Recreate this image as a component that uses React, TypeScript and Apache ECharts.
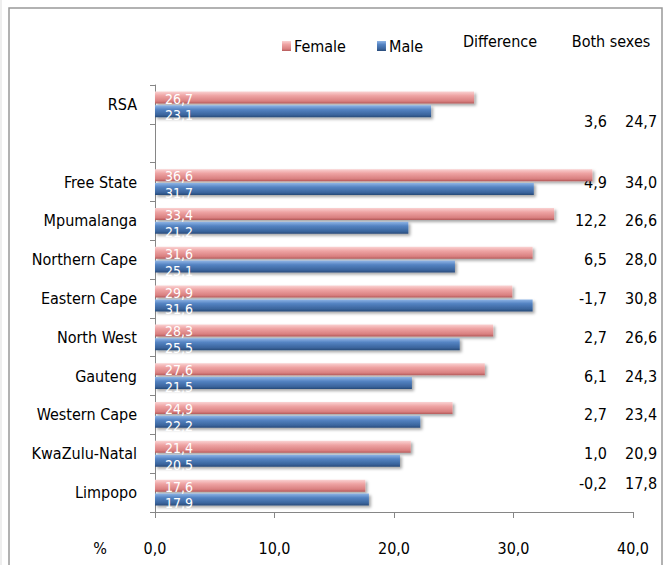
import React, { useEffect, useRef } from "react";
import * as echarts from "echarts";

const categories = [
  "RSA",
  "",
  "Free State",
  "Mpumalanga",
  "Northern Cape",
  "Eastern Cape",
  "North West",
  "Gauteng",
  "Western Cape",
  "KwaZulu-Natal",
  "Limpopo",
];
const female = [26.7, null, 36.6, 33.4, 31.6, 29.9, 28.3, 27.6, 24.9, 21.4, 17.6];
const male = [23.1, null, 31.7, 21.2, 25.1, 31.6, 25.5, 21.5, 22.2, 20.5, 17.9];
const difference = [3.6, null, 4.9, 12.2, 6.5, -1.7, 2.7, 6.1, 2.7, 1.0, -0.2];
const bothSexes = [24.7, null, 34.0, 26.6, 28.0, 30.8, 26.6, 24.3, 23.4, 20.9, 17.8];
const xTicks = [0, 10, 20, 30, 40];

const FONT = "'Liberation Sans Narrow', 'DejaVu Sans Condensed', 'Liberation Sans', sans-serif";
const FS = 16;

const fmt = (v: number | null) => (v == null ? "" : v.toFixed(1).replace(".", ","));

export default function App() {
  const ref = useRef<HTMLDivElement>(null);
  useEffect(() => {
    if (!ref.current) return;
    const chart = echarts.init(ref.current, undefined, { renderer: "svg" });

    const femaleColor = new echarts.graphic.LinearGradient(0, 0, 0, 1, [
      { offset: 0, color: "#fad2d2" },
      { offset: 0.35, color: "#eea3a3" },
      { offset: 0.8, color: "#d98080" },
      { offset: 1, color: "#b45a5a" },
    ]);
    const maleColor = new echarts.graphic.LinearGradient(0, 0, 0, 1, [
      { offset: 0, color: "#8fb5e6" },
      { offset: 0.35, color: "#5483c2" },
      { offset: 0.8, color: "#3a649c" },
      { offset: 1, color: "#284a78" },
    ]);

    const rightLabel = (arr: (number | null)[]) => (_v: string, i: number) => {
      if (i === 0) return `{rsa|${fmt(arr[0])}}`;
      if (i === categories.length - 1) return `{up|${fmt(arr[i])}}`;
      return fmt(arr[i]);
    };
    const rich = {
      rsa: { fontFamily: FONT, fontSize: FS, color: "#000", padding: [34, 0, 0, 0] },
      up: { fontFamily: FONT, fontSize: FS, color: "#000", padding: [0, 0, 18, 0] },
    };

    const barShadow = {
      shadowBlur: 3,
      shadowColor: "rgba(0,0,0,0.35)",
      shadowOffsetX: 2,
      shadowOffsetY: 2,
    };

    const barLabel = (dy: number) => ({
      show: true,
      position: "insideLeft",
      distance: 10,
      offset: [0, dy],
      color: "#fff",
      fontFamily: FONT,
      fontSize: 14,
      lineHeight: 12,
      formatter: (p: any) => fmt(p.value),
    });

    chart.setOption({
      animation: false,
      textStyle: { fontFamily: FONT },
      legend: {
        left: 277,
        top: 33,
        itemWidth: 9,
        itemHeight: 10,
        itemGap: 31,
        icon: "rect",
        textStyle: { fontFamily: FONT, fontSize: FS, color: "#000", padding: [0, 0, 0, -2] },
        data: ["Female", "Male"],
      },
      graphic: [
        {
          type: "rect",
          shape: { x: 9, y: 8, width: 653, height: 620 },
          style: { fill: "none", stroke: "#999", lineWidth: 1.5 },
          silent: true,
        },
        {
          type: "line",
          shape: { x1: 1, y1: 0, x2: 1, y2: 565 },
          style: { stroke: "#ddd", lineWidth: 1 },
          silent: true,
        },
        {
          type: "text",
          x: 500,
          y: 41,
          style: { text: "Difference", fontFamily: FONT, fontSize: FS, fill: "#000", textAlign: "center", textVerticalAlign: "middle" },
        },
        {
          type: "text",
          x: 611,
          y: 41,
          style: { text: "Both sexes", fontFamily: FONT, fontSize: FS, fill: "#000", textAlign: "center", textVerticalAlign: "middle" },
        },
        {
          type: "text",
          x: 100,
          y: 548,
          style: { text: "%", fontFamily: FONT, fontSize: FS, fill: "#000", textAlign: "center", textVerticalAlign: "middle" },
        },
      ],
      grid: { left: 155, right: 39, top: 85, bottom: 53 },
      xAxis: {
        type: "value",
        min: xTicks[0],
        max: xTicks[xTicks.length - 1],
        interval: 10,
        splitLine: { show: false },
        axisLine: { show: true, lineStyle: { color: "#868686" } },
        axisTick: { show: true, length: 6, lineStyle: { color: "#868686" } },
        axisLabel: {
          margin: 28,
          color: "#000",
          fontFamily: FONT,
          fontSize: FS,
          formatter: (v: number) => fmt(v),
        },
      },
      yAxis: [
        {
          type: "category",
          inverse: true,
          data: categories,
          axisLine: { show: true, lineStyle: { color: "#868686" } },
          axisTick: { show: true, length: 5, lineStyle: { color: "#868686" } },
          axisLabel: { interval: 0, margin: 18, color: "#000", fontFamily: FONT, fontSize: FS },
        },
        {
          type: "category",
          inverse: true,
          position: "right",
          offset: -26,
          data: categories,
          axisLine: { show: false },
          axisTick: { show: false },
          axisLabel: {
            interval: 0,
            margin: 0,
            align: "right",
            color: "#000",
            fontFamily: FONT,
            fontSize: FS,
            formatter: rightLabel(difference),
            rich,
          },
        },
        {
          type: "category",
          inverse: true,
          position: "right",
          offset: -8,
          data: categories,
          axisLine: { show: false },
          axisTick: { show: false },
          axisLabel: {
            interval: 0,
            margin: 0,
            align: "left",
            color: "#000",
            fontFamily: FONT,
            fontSize: FS,
            formatter: rightLabel(bothSexes),
            rich,
          },
        },
      ],
      series: [
        {
          name: "Female",
          type: "bar",
          yAxisIndex: 0,
          data: female,
          barWidth: 12,
          barGap: "15%",
          itemStyle: { color: femaleColor, ...barShadow },
          label: barLabel(1),
        },
        {
          name: "Male",
          type: "bar",
          yAxisIndex: 0,
          data: male,
          barWidth: 12,
          itemStyle: { color: maleColor, ...barShadow },
          label: barLabel(4),
        },
      ],
    });
    return () => chart.dispose();
  }, []);
  return (
    <div
      ref={ref}
      style={{ position: "fixed", left: 0, top: 0, width: 672, height: 565, background: "#fff" }}
    />
  );
}
